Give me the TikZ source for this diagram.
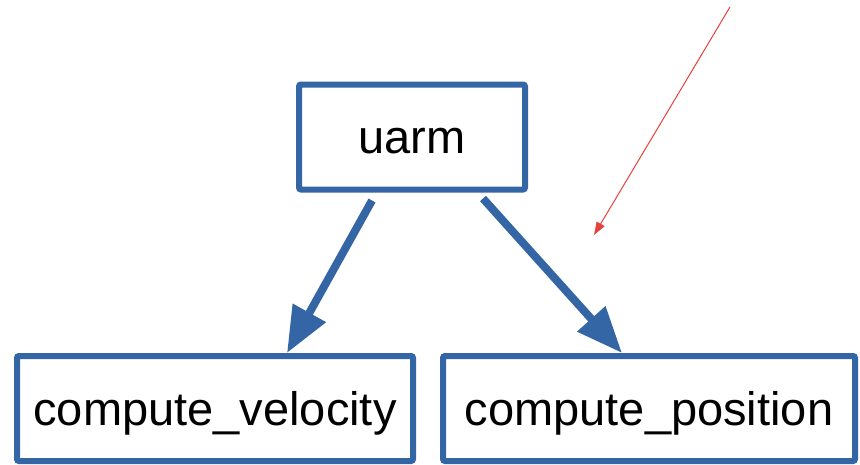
\documentclass[tikz,border=0pt]{standalone}
\usepackage{fontspec}
\setmainfont{Liberation Sans}
\usetikzlibrary{arrows.meta}
\definecolor{boxblue}{HTML}{3465A4}
\definecolor{notered}{HTML}{E8403A}
\begin{document}
\begin{tikzpicture}
[x=1pt,y=-1pt,
  boxdecorate/.style={shape=rectangle,draw=boxblue,line width=6pt,rounded corners=2pt,
    inner sep=0pt,outer sep=0pt,minimum height=105pt,text height=40pt,text depth=7pt,
    font=\fontsize{47}{56}\selectfont},%
  linedecorate/.style={-{Triangle[length=46pt,width=36pt]},draw=boxblue,line width=8pt},%
  notedecorate/.style={-{Triangle[length=13pt,width=9pt]},draw=notered,line width=1pt}]
\useasboundingbox (0,0) rectangle (860,464);
%% nodes or boxes
\foreach \nodename/\x/\y/\w/\txt in {uarm/412/137/226/uarm,
    vel/215/408.5/396/compute\_velocity, pos/649/408.5/412/compute\_position} {
  \node (\nodename) at (\x,\y) [boxdecorate,minimum width=\w pt] {\txt};
}
%% edges or arrows
\draw[linedecorate] ([xshift=-40pt,yshift=-11pt]uarm.south) -- ([xshift=72pt,yshift=3pt]vel.north);
\draw[linedecorate] ([xshift=71pt,yshift=-9pt]uarm.south) -- ([xshift=-27pt,yshift=3pt]pos.north);
%% red pointer
\coordinate (notetail) at (730,7);
\coordinate (notetip) at (594,235);
\draw[notedecorate] (notetail) -- (notetip);
\end{tikzpicture}
\end{document}
